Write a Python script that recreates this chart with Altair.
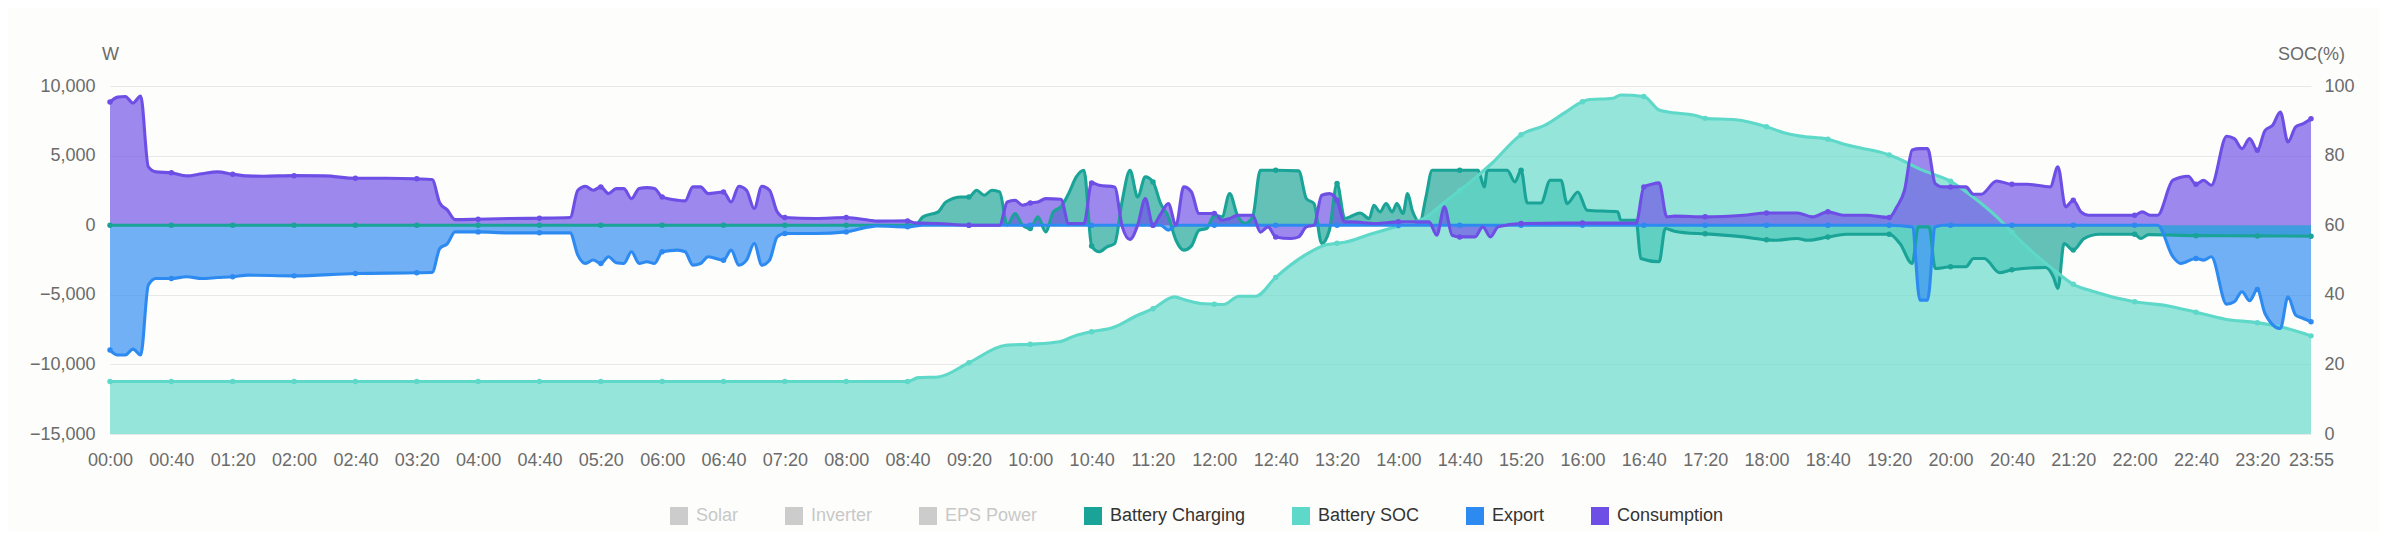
import altair as alt
import pandas as pd

# ---------------- data ----------------
cons_t = ["00:00","00:05","00:10","00:15","00:20","00:25","00:30","00:40","00:50","01:00","01:10","01:20","01:30","01:40","02:00","02:20","02:40","03:00","03:20","03:30","03:35","03:40","03:45","04:00","04:20","04:40","05:00","05:05","05:10","05:15","05:20","05:25","05:30","05:35","05:40","05:45","05:50","05:55","06:00","06:10","06:15","06:20","06:25","06:30","06:40","06:45","06:50","06:55","07:00","07:05","07:10","07:15","07:20","07:40","08:00","08:15","08:20","08:40","08:45","09:00","09:20","09:40","09:45","09:50","09:55","10:00","10:05","10:10","10:20","10:25","10:35","10:40","10:45","10:55","11:00","11:05","11:10","11:15","11:20","11:25","11:30","11:35","11:40","11:45","11:50","12:00","12:05","12:10","12:15","12:25","12:30","12:35","12:40","12:50","12:55","13:00","13:05","13:10","13:15","13:20","13:25","13:30","13:45","14:00","14:20","14:25","14:30","14:35","14:40","14:50","14:55","15:00","15:05","15:20","16:00","16:35","16:40","16:45","16:50","16:55","17:00","17:20","17:45","18:00","18:20","18:30","18:40","18:50","19:05","19:20","19:25","19:30","19:35","19:40","19:45","19:50","19:55","20:00","20:10","20:15","20:20","20:30","20:40","20:50","21:05","21:10","21:15","21:20","21:25","21:30","22:00","22:05","22:10","22:15","22:25","22:35","22:40","22:45","22:50","23:00","23:05","23:10","23:15","23:20","23:25","23:30","23:35","23:40","23:45","23:50","23:55"]
cons_v = [8850,9200,9250,8780,9280,4190,3830,3760,3540,3700,3830,3660,3540,3520,3560,3540,3370,3370,3330,3280,1600,1080,400,430,480,500,550,2510,2800,2510,2750,2270,2630,2630,1910,2630,2700,2630,2030,1790,1750,2750,2750,2270,2390,1670,2800,2510,1200,2800,2510,960,550,480,550,360,290,310,170,120,0,0,1670,1790,1435,1600,1670,1910,1860,120,120,3040,2870,2750,-120,-1030,0,1910,0,800,1550,0,2750,2400,840,840,360,480,720,720,-500,-120,-840,-960,-840,-120,0,2150,2270,1800,240,240,120,240,240,-720,1320,-720,-840,-840,-120,-840,-120,120,150,150,2750,2940,3040,600,650,600,720,880,880,600,960,720,720,550,1320,2510,5400,5500,5500,2990,2750,2750,2750,2220,2220,3180,2940,2940,2750,4190,1320,1790,960,720,720,960,720,720,3230,3520,2940,3230,2870,6390,6220,5500,6220,5380,6800,7180,8130,5980,7060,7300,7650]

exp_t = ["00:00","00:05","00:10","00:15","00:20","00:25","00:30","00:40","00:50","01:00","01:10","01:20","01:30","02:00","02:40","03:20","03:30","03:35","03:40","03:45","04:00","04:20","04:40","05:00","05:05","05:10","05:15","05:20","05:25","05:30","05:35","05:40","05:45","05:50","05:55","06:00","06:10","06:15","06:20","06:25","06:30","06:40","06:45","06:50","06:55","07:00","07:05","07:10","07:15","07:20","07:40","08:00","08:15","08:20","08:40","08:50","09:20","10:00","10:40","11:20","11:25","11:30","11:35","12:00","12:40","13:20","14:00","14:40","15:20","16:00","16:40","17:20","18:00","18:40","19:20","19:35","19:40","19:45","19:50","19:55","20:00","20:40","21:20","22:00","22:15","22:25","22:30","22:40","22:45","22:50","23:00","23:05","23:10","23:15","23:20","23:25","23:35","23:40","23:45","23:50","23:55"]
exp_v = [-8970,-9330,-9330,-8900,-9330,-4300,-3830,-3830,-3700,-3830,-3760,-3700,-3590,-3640,-3470,-3420,-3400,-1670,-1320,-480,-480,-550,-550,-550,-2150,-2750,-2500,-2750,-2270,-2700,-2750,-1910,-2750,-2630,-2750,-1910,-1790,-1910,-2870,-2750,-2270,-2510,-1790,-2870,-2510,-1320,-2870,-2510,-840,-600,-600,-480,-120,-60,-120,0,0,0,0,0,0,-360,0,0,0,0,0,0,0,0,0,0,0,0,0,-120,-5380,-5380,-120,0,0,0,0,0,0,-2270,-2750,-2390,-2510,-2270,-5670,-5500,-4780,-5430,-4610,-6340,-7420,-5140,-6460,-6700,-6940]

chg_t = ["00:00","00:40","01:20","02:00","02:40","03:20","04:00","04:40","05:20","06:00","06:40","07:20","08:00","08:40","08:45","08:50","09:00","09:05","09:15","09:20","09:25","09:30","09:35","09:40","09:45","09:50","09:55","10:00","10:05","10:10","10:15","10:20","10:25","10:30","10:35","10:40","10:45","10:50","10:55","11:00","11:05","11:10","11:15","11:20","11:25","11:30","11:35","11:40","11:45","11:50","11:55","12:00","12:05","12:10","12:15","12:20","12:25","12:30","12:40","12:55","13:00","13:05","13:10","13:15","13:20","13:25","13:35","13:41","13:44","13:48","13:52","13:56","13:59","14:03","14:06","14:09","14:14","14:18","14:22","14:40","14:52","14:56","14:58","15:11","15:16","15:20","15:24","15:33","15:39","15:46","15:50","15:57","16:03","16:23","16:25","16:35","16:38","16:50","16:54","17:00","17:15","17:20","17:45","18:00","18:05","18:20","18:27","18:40","18:52","19:20","19:27","19:35","19:39","19:46","19:50","20:00","20:10","20:15","20:22","20:32","20:40","21:02","21:07","21:10","21:14","21:20","21:27","21:37","22:00","22:04","22:09","22:40","23:20","23:55"]
chg_v = [0,0,0,0,0,0,0,0,0,0,0,0,0,0,0,600,960,1670,2030,2030,2510,2150,2510,2390,0,840,0,-240,600,-480,960,1320,2270,3470,3950,-1500,-1910,-1550,-1320,1790,3950,2030,3470,3110,1550,600,-1080,-1790,-1500,-360,-240,720,600,2270,720,120,600,3950,3950,3900,1910,1550,-1320,-360,2990,480,880,480,1435,960,1550,960,1550,840,2270,1080,240,2030,3950,3950,3950,2750,3950,3950,3110,3950,1600,1600,3230,3230,1550,2390,1080,960,360,360,-2390,-2630,-240,-430,-600,-620,-840,-1050,-1080,-960,-1080,-850,-650,-650,-1320,-2750,-120,-120,-3110,-2990,-2990,-2390,-2390,-3420,-3200,-3040,-3710,-4540,-1320,-1790,-960,-650,-650,-960,-680,-750,-770,-790]

soc_t = ["00:00","00:40","01:20","02:00","02:40","03:20","04:00","04:40","05:20","06:00","06:40","07:20","08:00","08:40","08:47","09:00","09:20","09:44","10:00","10:19","10:29","10:40","10:54","11:09","11:20","11:34","11:41","11:51","12:00","12:06","12:16","12:27","12:40","12:58","13:13","13:20","13:25","13:41","14:00","14:16","14:31","14:40","14:46","15:01","15:20","15:36","15:48","16:00","16:03","16:20","16:25","16:40","16:50","16:55","17:15","17:20","17:40","18:00","18:12","18:22","18:40","18:52","19:20","19:30","19:40","20:00","20:17","20:32","20:40","20:47","21:07","21:20","21:32","22:00","22:22","22:40","22:59","23:20","23:37","23:55"]
soc_v = [15.1,15.1,15.1,15.1,15.1,15.1,15.1,15.1,15.1,15.1,15.1,15.1,15.1,15.1,16.2,16.4,20.5,25.5,25.8,26.5,28.2,29.4,30.6,33.9,36.0,39.4,38.5,37.5,37.3,37.2,39.6,39.6,45.0,51.1,54.4,54.8,55.1,57.3,59.8,61.8,66.9,70.0,72.1,77.8,86.0,88.8,92.2,95.5,96.0,96.5,97.4,97.0,93.1,92.6,91.4,90.7,90.3,88.3,86.5,85.6,84.7,83.1,80.2,78.3,76.1,72.6,67.3,61.6,58.0,54.9,47.3,43.0,41.1,38.0,36.8,35.0,33.0,32.0,30.6,28.2]

legend_names = ["Solar", "Inverter", "EPS Power", "Battery Charging", "Battery SOC", "Export", "Consumption"]
legend_colors = ["#CCCCCC", "#CCCCCC", "#CCCCCC", "#1AA397", "#5ED8C8", "#2D8AF0", "#6E4FE6"]
x_ticks = list(range(0, 1401, 40)) + [1435]
w_ticks = [-15000, -10000, -5000, 0, 5000, 10000]
soc_ticks = [0, 20, 40, 60, 80, 100]


def to_min(t):
    h, m = t.split(":")
    return int(h) * 60 + int(m)


rows = []
for name, ts, vs in [("Consumption", cons_t, cons_v), ("Export", exp_t, exp_v),
                     ("Battery Charging", chg_t, chg_v), ("Battery SOC", soc_t, soc_v)]:
    for t, v in zip(ts, vs):
        rows.append({"series": name, "m": to_min(t), "v": v})
df = pd.DataFrame(rows)

FONT = "Liberation Sans"
LABEL = "#6B6B6B"
col = dict(zip(legend_names, legend_colors))

x_axis = alt.Axis(values=x_ticks, labelExpr="timeFormat(datetime(2000, 0, 1, 0, datum.value), '%H:%M')",
                  grid=False, domain=False, ticks=False, labelOverlap=False, labelFlush=False,
                  labelFontSize=18, labelColor=LABEL, labelFont=FONT, labelPadding=17, title=None)
X = alt.X("m:Q", scale=alt.Scale(domain=[0, 1435], nice=False, zero=False), axis=x_axis)

w_axis = alt.Axis(values=w_ticks, labelExpr="format(datum.value, ',')", grid=True, gridColor="#E8E8E8",
                  gridWidth=1.2, domain=False, ticks=False, labelFontSize=18, labelColor=LABEL,
                  labelFont=FONT, labelPadding=15, labelFlush=False, orient="left", title="W",
                  titleAngle=0, titleX=0, titleY=-32, titleAlign="center", titleBaseline="middle",
                  titleFont=FONT, titleFontSize=18, titleFontWeight="normal", titleColor=LABEL)
soc_axis = alt.Axis(values=soc_ticks, grid=False, domain=False, ticks=False, labelFontSize=18,
                    labelColor=LABEL, labelFont=FONT, labelPadding=13, labelFlush=False, orient="right",
                    title="SOC(%)", titleAngle=0, titleX=0, titleY=-32, titleAlign="center",
                    titleBaseline="middle", titleFont=FONT, titleFontSize=18, titleFontWeight="normal",
                    titleColor=LABEL)

w_scale = alt.Scale(domain=[-15000, 10000], nice=False, zero=False)
soc_scale = alt.Scale(domain=[0, 100], nice=False, zero=False)

legend = alt.Legend(orient="none", legendX=560, legendY=421, direction="horizontal", title=None,
                    symbolType="square", symbolSize=324, symbolStrokeWidth=0, symbolOpacity=1,
                    labelFont=FONT, labelFontSize=18, labelOffset=8, columnPadding=46, padding=0,
                    labelColor={"expr": "indexof(['Solar','Inverter','EPS Power'], datum.label) >= 0 ? '#C8C8C8' : '#333333'"})
color = alt.Color("series:N", scale=alt.Scale(domain=legend_names, range=legend_colors), legend=legend)

base = alt.Chart(df)
layers = []
order = ["Battery Charging", "Battery SOC", "Export", "Consumption"]
# areas
for s in order:
    is_soc = s == "Battery SOC"
    y = alt.Y("v:Q", stack=None, scale=soc_scale if is_soc else w_scale,
              axis=(soc_axis if is_soc else (w_axis if s == "Battery Charging" else None)))
    layers.append(base.transform_filter(alt.datum.series == s).mark_area(
        interpolate="monotone", opacity=0.65 if is_soc else 0.68).encode(
        x=X, y=y, y2=alt.datum(0), color=color))
# lines
for s in order:
    is_soc = s == "Battery SOC"
    y = alt.Y("v:Q", stack=None, scale=soc_scale if is_soc else w_scale, axis=None)
    layers.append(base.transform_filter(alt.datum.series == s).mark_line(
        interpolate="monotone", strokeWidth=3.1, strokeJoin="round", strokeCap="round",
        color=col[s]).encode(x=X, y=y))
# dots every 40 minutes
for s in order:
    is_soc = s == "Battery SOC"
    y = alt.Y("v:Q", stack=None, scale=soc_scale if is_soc else w_scale, axis=None)
    layers.append(base.transform_filter(alt.datum.series == s).transform_filter(
        "datum.m % 40 == 0 || datum.m == 1435").mark_circle(size=30, opacity=1, color=col[s]).encode(x=X, y=y))

chart = alt.layer(*layers).resolve_scale(y="independent").properties(
    width=2201, height=348,
    autosize=alt.AutoSizeParams(type="none"),
    padding={"left": 102, "top": 78, "right": 68, "bottom": 98},
    background="#FDFDFB",
).configure_view(stroke=None)

chart.save("out.html", embed_options={"renderer": "svg", "actions": False})
